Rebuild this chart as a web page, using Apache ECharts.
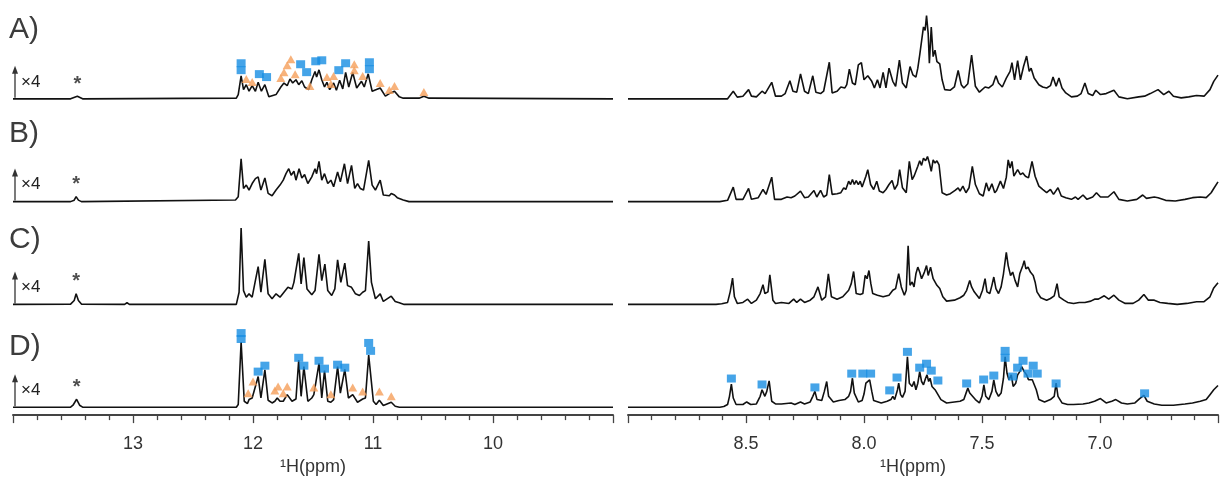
<!DOCTYPE html>
<html><head><meta charset="utf-8">
<script src="https://cdn.jsdelivr.net/npm/echarts@6/dist/echarts.min.js"></script>
<style>html,body{margin:0;padding:0;background:#fff}#c{width:1221px;height:481px}</style>
</head><body><div id="c"></div>
<script>
// ---------- DATA (ppm, intensity above each trace's own baseline) ----------
const panelLabels = ['A)', 'B)', 'C)', 'D)'];
const scaleLabel = '×4';
const axisTitle = '¹H(ppm)';
const leftTickLabels = ['13', '12', '11', '10'];
const rightTickLabels = ['8.5', '8.0', '7.5', '7.0'];

const specA_left = [[14.0,0],[13.52,0],[13.464,2.7],[13.42,0],
[12.139,0.7],[12.123,4.3],[12.099,23.3],[12.079,9.3],[12.056,14.3],[12.033,7.7],[12.007,13.3],[11.980,7.7],[11.957,16.7],[11.930,7.7],[11.901,14.3],[11.868,2],[11.808,4.3],[11.768,12],[11.742,16],[11.715,13.3],[11.692,20],[11.669,16],[11.642,19.3],[11.619,14.3],[11.593,18.3],[11.570,12],[11.536,9.3],[11.510,19.3],[11.483,27.7],[11.470,22],[11.450,29.3],[11.427,19.3],[11.404,12],[11.384,16.7],[11.361,9.3],[11.328,16],[11.305,8.7],[11.278,18.7],[11.252,10],[11.228,26.7],[11.202,12],[11.169,26.7],[11.136,11],[11.096,17.7],[11.073,12],[11.040,25.3],[11.007,7.7],[10.940,11],[10.897,2.7],[10.864,5.3],[10.848,4.3],[10.821,7.7],[10.781,2],[10.748,0.7],[10.616,0.7],[10.576,2.7],[10.533,0.7],[9.0,0]];

const specB_left = [[14.0,0],[13.52,0],[13.49,1.5],[13.474,5],[13.455,1.5],[13.43,0],
[12.146,1.7],[12.123,5],[12.099,43.3],[12.079,13.3],[12.056,16.7],[12.033,11.7],[12.007,18.3],[11.980,23.3],[11.957,25],[11.934,11.7],[11.901,24],[11.874,8.3],[11.841,6],[11.808,11.7],[11.775,16.7],[11.748,21.7],[11.725,28.3],[11.702,33.3],[11.682,26.7],[11.659,30.7],[11.642,21.7],[11.616,33.3],[11.593,24],[11.570,27.3],[11.543,18.3],[11.510,25],[11.483,33.3],[11.470,28.3],[11.450,40.7],[11.427,21.7],[11.404,28.3],[11.377,18.3],[11.351,21.7],[11.328,15],[11.295,30],[11.272,20],[11.238,38.3],[11.212,18.3],[11.179,36.7],[11.152,13.3],[11.129,18.3],[11.106,13.3],[11.079,11.7],[11.036,41.7],[11.007,16.7],[10.980,11.7],[10.940,21.7],[10.914,6.7],[10.864,6],[10.848,8.3],[10.821,6.7],[10.798,4],[10.748,1.7],[10.70,0],[9.0,0]];

const specC_left = [[14.0,0],[13.52,0.3],[13.49,4],[13.474,10.7],[13.455,4],[13.43,0.3],[13.07,0],[13.05,1.7],[13.03,0],
[12.139,0],[12.116,12.3],[12.099,77.3],[12.079,14],[12.056,7.3],[12.033,10.7],[12.007,7.3],[11.983,22.3],[11.957,38.3],[11.934,12.3],[11.901,45.7],[11.874,10.7],[11.841,5.7],[11.808,10.7],[11.775,7.3],[11.742,12.3],[11.709,17.3],[11.675,15.7],[11.659,22.3],[11.619,51.7],[11.599,20.7],[11.576,47.3],[11.550,15.7],[11.510,9.7],[11.483,14],[11.450,50.7],[11.427,24],[11.401,40.7],[11.377,14],[11.344,9],[11.318,15.7],[11.295,45],[11.268,22.3],[11.235,41.7],[11.212,19],[11.179,17.3],[11.146,10.7],[11.113,9],[11.086,12.3],[11.063,14],[11.036,64],[11.013,22.3],[10.980,5.7],[10.940,10.7],[10.914,3],[10.848,8.3],[10.815,3],[10.781,1.7],[10.74,0],[9.0,0]];

const specD_left = [[14.0,0],[13.52,0],[13.50,2],[13.47,8],[13.445,2],[13.42,0],
[12.139,0],[12.123,2.7],[12.099,66],[12.073,6],[12.046,3.7],[12.033,7.7],[12.007,9.3],[11.980,21],[11.957,31],[11.934,9.3],[11.901,37.7],[11.874,7],[11.841,4.3],[11.818,6],[11.798,9.3],[11.775,6],[11.748,6],[11.715,12.7],[11.675,6],[11.642,8.3],[11.619,47.7],[11.599,11],[11.576,41],[11.543,6],[11.510,9.3],[11.493,12.7],[11.477,11],[11.450,44.3],[11.427,9.3],[11.404,37],[11.377,6],[11.351,5],[11.328,7.7],[11.295,41],[11.272,14.3],[11.235,38.3],[11.205,9.3],[11.169,12.7],[11.129,5],[11.086,8.3],[11.063,9.3],[11.036,52.7],[10.997,6],[10.974,2.7],[10.947,7],[10.914,1.7],[10.848,5],[10.815,1],[10.78,0],[9.0,0]];

const specA_right = [[9.0,0],[8.578,0],[8.554,7.7],[8.537,1.7],[8.513,2.7],[8.489,9.3],[8.477,2.7],[8.456,2],[8.432,7.7],[8.419,5.3],[8.391,16.7],[8.375,2.7],[8.350,2.7],[8.334,5.3],[8.314,18.3],[8.301,7.7],[8.285,6.7],[8.269,25.3],[8.252,7.7],[8.236,5.3],[8.217,23.3],[8.204,6.7],[8.184,5.3],[8.171,7.7],[8.147,37],[8.135,6],[8.114,7.7],[8.098,12],[8.081,11],[8.073,14.3],[8.062,30],[8.049,16],[8.037,14.3],[8.024,34.3],[8.016,32.7],[8.011,36.7],[8.000,19.3],[7.984,23.3],[7.967,17.7],[7.956,11],[7.943,19.3],[7.932,11],[7.919,26.7],[7.907,11],[7.894,31],[7.878,17.7],[7.866,12.7],[7.850,39.3],[7.837,16],[7.821,11],[7.805,32.7],[7.793,24.3],[7.780,22],[7.772,31],[7.764,44.3],[7.756,44.3],[7.748,72.7],[7.741,69.3],[7.735,84.3],[7.728,66],[7.723,36],[7.715,72.7],[7.707,42.7],[7.699,49.3],[7.691,37.7],[7.679,35.3],[7.669,19.3],[7.658,9.3],[7.634,8.7],[7.617,12],[7.601,28.7],[7.588,14.3],[7.577,11],[7.560,15.3],[7.544,44.3],[7.528,12.7],[7.511,6.7],[7.487,12],[7.471,11],[7.454,14.3],[7.441,23.3],[7.430,16],[7.414,12],[7.397,21],[7.381,27.7],[7.373,36.7],[7.362,19.3],[7.349,38.7],[7.337,19.3],[7.324,32.7],[7.311,43.3],[7.300,27.7],[7.292,31],[7.279,21],[7.259,14.3],[7.243,12],[7.226,11],[7.210,13.3],[7.199,22],[7.186,12.7],[7.174,21],[7.161,11],[7.145,6],[7.121,2],[7.096,2.7],[7.080,5.3],[7.064,16],[7.050,5.3],[7.031,3.3],[7.018,8.7],[6.998,4.3],[6.974,5.3],[6.941,8.7],[6.920,2],[6.884,0],[6.836,2],[6.811,2.7],[6.787,5.3],[6.754,9.3],[6.730,4.3],[6.708,7.7],[6.689,2.7],[6.656,1],[6.624,2],[6.591,3.3],[6.559,2.7],[6.534,9.3],[6.518,17.7],[6.5,24]];

const specB_right = [[9.0,0],[8.611,0],[8.578,1.3],[8.554,14.7],[8.542,2.3],[8.513,2.3],[8.489,13.3],[8.477,2.3],[8.448,4],[8.428,12.3],[8.415,7.3],[8.391,24.7],[8.379,2.3],[8.350,2.3],[8.326,4.7],[8.309,4],[8.293,5.7],[8.269,10.7],[8.252,4],[8.236,4.7],[8.212,11.3],[8.200,4.7],[8.184,11.3],[8.171,4.7],[8.158,6.7],[8.147,27.3],[8.135,7.3],[8.114,8],[8.098,9],[8.086,14],[8.077,12.3],[8.065,20.7],[8.057,17.3],[8.049,22.3],[8.041,17.3],[8.033,21.3],[8.024,17.3],[8.016,20.7],[8.008,14.7],[7.992,25.7],[7.984,32.3],[7.972,17.3],[7.959,12.3],[7.946,20.7],[7.935,10.7],[7.919,9],[7.907,12.3],[7.894,17.3],[7.881,21.3],[7.870,12.3],[7.858,17.3],[7.849,32.3],[7.837,14],[7.821,9],[7.808,40.7],[7.796,22.3],[7.788,25.7],[7.780,24],[7.772,35.7],[7.764,41.3],[7.756,36.7],[7.748,44],[7.739,41.3],[7.731,45.7],[7.723,39],[7.715,30.7],[7.707,42.3],[7.699,39],[7.691,41.3],[7.682,37.3],[7.669,9],[7.650,6.7],[7.634,8],[7.614,11.3],[7.601,14],[7.593,10.7],[7.581,15.7],[7.568,9],[7.555,14],[7.541,35.7],[7.528,17.3],[7.511,8],[7.495,5.7],[7.482,19],[7.471,10.7],[7.458,18],[7.446,9],[7.438,11.3],[7.422,20.7],[7.409,13.3],[7.397,24.7],[7.389,42.3],[7.381,34],[7.373,40.7],[7.365,25.7],[7.357,29],[7.349,32.3],[7.337,27.3],[7.327,29],[7.316,25.7],[7.303,24],[7.288,40.7],[7.275,25.7],[7.259,15.7],[7.243,12.3],[7.226,9],[7.210,12.3],[7.197,7.3],[7.178,14],[7.164,5.7],[7.145,4],[7.121,2.3],[7.104,4.7],[7.093,2.3],[7.072,6.7],[7.055,2.3],[7.031,4.7],[7.015,9],[6.998,4.7],[6.966,4.7],[6.941,10],[6.920,2.3],[6.884,0.7],[6.844,2.3],[6.819,6.7],[6.803,3.3],[6.770,4.7],[6.754,4],[6.722,1.3],[6.681,0.7],[6.640,2.3],[6.608,4],[6.575,4.7],[6.550,4],[6.529,9],[6.518,13.3],[6.5,20]];

const specC_right = [[9.0,0],[8.627,0],[8.603,0.7],[8.578,2],[8.567,12.7],[8.557,26.7],[8.549,7.7],[8.537,1],[8.513,2],[8.493,5.3],[8.477,1],[8.456,4.3],[8.440,11],[8.428,20],[8.420,11],[8.407,12.7],[8.399,30],[8.386,4.3],[8.375,1],[8.350,2],[8.318,1],[8.298,5.3],[8.285,2],[8.269,5.3],[8.252,2],[8.228,4.3],[8.212,7.7],[8.195,17.7],[8.179,4.3],[8.163,7.7],[8.151,31],[8.138,7.7],[8.114,5.3],[8.090,7.7],[8.065,14.3],[8.054,21],[8.044,33.3],[8.033,11],[8.016,10],[8.005,11],[7.995,29.3],[7.987,26],[7.979,34.3],[7.971,21],[7.963,11],[7.943,9.3],[7.919,7.7],[7.894,9.3],[7.878,14.3],[7.866,16],[7.853,31],[7.842,17.7],[7.829,9.3],[7.821,14.3],[7.813,59.3],[7.805,19.3],[7.796,22.7],[7.788,17.7],[7.780,31],[7.772,37.7],[7.764,32.7],[7.756,26],[7.744,32.7],[7.735,39.3],[7.728,29.3],[7.718,37.7],[7.707,26],[7.691,19.3],[7.679,16],[7.666,7.7],[7.650,3.3],[7.617,4.3],[7.593,6.7],[7.577,9.3],[7.565,14.3],[7.552,24.3],[7.544,17.7],[7.533,12.7],[7.511,6],[7.498,14.3],[7.487,26],[7.479,12.7],[7.467,11],[7.458,19.3],[7.450,27.7],[7.441,16],[7.430,11],[7.419,17.7],[7.409,31],[7.397,52.7],[7.389,39.3],[7.379,29.3],[7.370,32.7],[7.360,24.3],[7.349,17.7],[7.340,31],[7.327,39.3],[7.321,44.3],[7.314,36],[7.305,37.7],[7.295,32.7],[7.283,29.3],[7.275,22.7],[7.267,12.7],[7.251,6.7],[7.226,4.3],[7.210,6],[7.194,8.7],[7.182,21],[7.173,7.7],[7.153,4.3],[7.137,2],[7.112,1],[7.088,2],[7.064,2],[7.039,3.3],[7.023,5.3],[7.007,5.3],[6.982,8.7],[6.963,5.3],[6.941,9.3],[6.920,4.3],[6.893,1],[6.860,1],[6.836,4.3],[6.814,10],[6.795,4.3],[6.770,4.3],[6.746,2],[6.713,1],[6.673,0],[6.632,1],[6.591,2.7],[6.559,2.7],[6.534,7.7],[6.518,16.7],[6.5,22]];

const specD_right = [[9.0,0],[8.611,0],[8.594,0.7],[8.578,2.7],[8.570,11],[8.562,23.3],[8.554,9.3],[8.542,2.7],[8.513,2.7],[8.497,5.3],[8.480,2.7],[8.456,3.3],[8.440,11],[8.432,17.7],[8.420,11],[8.412,16],[8.402,26.7],[8.391,6],[8.375,3.3],[8.350,3.3],[8.309,4.3],[8.293,2.7],[8.269,5.3],[8.252,3.3],[8.228,5.3],[8.217,11],[8.208,16],[8.199,7.7],[8.179,6.7],[8.168,16],[8.158,26],[8.150,11],[8.130,5.3],[8.106,6.7],[8.081,7.7],[8.065,11],[8.057,16],[8.049,29.3],[8.041,14.3],[8.024,5.3],[8.008,6.7],[8.000,13.3],[7.992,24.3],[7.984,23.3],[7.976,27.7],[7.967,16],[7.959,6.7],[7.927,4.3],[7.902,6],[7.886,7.7],[7.878,11],[7.870,7.7],[7.858,17.7],[7.853,24.3],[7.845,12.7],[7.837,10],[7.826,16],[7.816,51],[7.808,24.3],[7.796,21],[7.788,26],[7.780,17.7],[7.772,24.3],[7.764,36],[7.756,26],[7.748,22.7],[7.739,29.3],[7.733,32.7],[7.726,26],[7.720,29.3],[7.712,21],[7.699,17.7],[7.691,19.3],[7.674,7.7],[7.650,4.3],[7.617,5.3],[7.593,6],[7.577,7.7],[7.565,16],[7.560,19.3],[7.552,14.3],[7.544,12.7],[7.528,7.7],[7.511,4.3],[7.500,11],[7.492,22.7],[7.484,11],[7.471,7.7],[7.458,16],[7.450,27.7],[7.441,16],[7.430,11],[7.419,14.3],[7.409,29.3],[7.402,51],[7.394,34.3],[7.386,27.7],[7.376,32.7],[7.368,21],[7.357,24.3],[7.349,32.7],[7.340,36],[7.332,41],[7.327,40],[7.321,36],[7.311,32.7],[7.303,27.7],[7.295,26],[7.287,27.7],[7.280,26],[7.270,17.7],[7.259,7.7],[7.235,5.3],[7.210,7.7],[7.194,11],[7.186,24.3],[7.178,11],[7.161,4.3],[7.137,2.7],[7.112,2.7],[7.072,3.3],[7.047,4.3],[7.023,6],[6.998,8.7],[6.974,4.3],[6.950,6],[6.933,7.7],[6.909,4.3],[6.884,3.3],[6.852,4.3],[6.832,8.7],[6.814,12],[6.800,6],[6.770,3.3],[6.738,2],[6.689,2],[6.640,3.3],[6.608,4.3],[6.575,6],[6.550,7.7],[6.534,12.7],[6.518,17.7],[6.5,22]];

// assignment markers (ppm, height above trace baseline)
const squaresA_left = [[12.099,36],[12.099,29],[11.947,25],[11.887,22],[11.603,35],[11.553,27],[11.477,38],[11.427,39],[11.285,29],[11.228,36],[11.030,37],[11.030,30]];
const trianglesA_left = [[12.056,20],[12.007,17],[11.768,21],[11.742,27],[11.715,34],[11.685,40],[11.649,25],[11.526,13],[11.384,22],[11.351,15],[11.328,23],[11.156,35],[11.156,29],[11.086,23],[10.940,16],[10.864,9],[10.821,13],[10.576,7]];
const squaresD_left = [[12.099,75],[12.099,69],[11.957,36],[11.901,42],[11.619,50],[11.576,42],[11.450,47],[11.404,39],[11.295,43],[11.235,40],[11.036,65],[11.020,57]];
const trianglesD_left = [[12.040,14],[12.000,26],[11.818,17],[11.791,21],[11.748,14],[11.715,21],[11.493,20],[11.351,13],[11.169,20],[11.086,16],[10.947,16],[10.848,11]];
const squaresD_right = [[8.562,29],[8.432,23],[8.208,20],[8.052,34],[8.005,34],[7.972,34],[7.891,17],[7.860,30],[7.816,56],[7.764,40],[7.735,44],[7.715,37],[7.687,27],[7.565,24],[7.493,28],[7.450,32],[7.402,57],[7.402,50],[7.370,31],[7.349,40],[7.326,47],[7.305,34],[7.283,42],[7.266,34],[7.186,24],[6.811,14]];
// reference peak marked with an asterisk (ppm, peak height) for A..D
const starPeaks = [[13.464,2.7],[13.474,5],[13.474,10.7],[13.47,8]];

// ---------- LAYOUT ----------
const traceOffsets = [320, 216, 112, 8];
const BLUE = '#178de2', ORANGE = '#f59f5a', INK = '#111';
const FONT = 'Liberation Sans, Arial, sans-serif';

const chart = echarts.init(document.getElementById('c'), null, {renderer: 'canvas'});
const shift = (arr, off) => arr.map(p => [p[0], p[1] + off]);

const leftSpecs = [specA_left, specB_left, specC_left, specD_left];
const rightSpecs = [specA_right, specB_right, specC_right, specD_right];

const series = [];
leftSpecs.forEach((s, i) => series.push({
  type: 'line', xAxisIndex: 0, yAxisIndex: 0, data: shift(s, traceOffsets[i]),
  showSymbol: false, symbol: 'none', lineStyle: {color: INK, width: 1.6}, z: 2, animation: false
}));
rightSpecs.forEach((s, i) => series.push({
  type: 'line', xAxisIndex: 1, yAxisIndex: 1, data: shift(s, traceOffsets[i]),
  showSymbol: false, symbol: 'none', lineStyle: {color: INK, width: 1.6}, z: 2, animation: false
}));
function markers(data, off, ax, sym) {
  const isSq = sym === 'rect';
  return {
    type: 'scatter', xAxisIndex: ax, yAxisIndex: ax, data: shift(data, off),
    symbol: sym, symbolSize: isSq ? [9, 8] : [9, 8],
    itemStyle: {color: isSq ? BLUE : ORANGE}, z: 5, animation: false, silent: true
  };
}
series.push(markers(squaresA_left, traceOffsets[0], 0, 'rect'));
series.push(markers(trianglesA_left, traceOffsets[0], 0, 'triangle'));
series.push(markers(squaresD_left, traceOffsets[3], 0, 'rect'));
series.push(markers(trianglesD_left, traceOffsets[3], 0, 'triangle'));
series.push(markers(squaresD_right, traceOffsets[3], 1, 'rect'));
series.push({
  type: 'scatter', xAxisIndex: 0, yAxisIndex: 0,
  data: starPeaks.map((p, i) => [p[0], p[1] + traceOffsets[i]]),
  symbol: 'circle', symbolSize: 2, itemStyle: {color: 'rgba(0,0,0,0)'},
  z: 6, animation: false, silent: true,
  label: {show: true, position: 'top', distance: 1, formatter: '*', fontSize: 20, fontWeight: 'bold', color: '#222', fontFamily: FONT}
});

function xAxis(grid, min, max, interval, labels, pad) {
  return {
    type: 'value', gridIndex: grid, min: min, max: max, interval: interval, inverse: true,
    axisLine: {show: true, lineStyle: {color: '#444', width: 2}},
    axisTick: {show: true, inside: false, length: 8, lineStyle: {color: '#444', width: 1.3}},
    minorTick: {show: true, splitNumber: 5, length: 5, lineStyle: {color: '#444', width: 1.3}},
    splitLine: {show: false}, minorSplitLine: {show: false},
    axisLabel: {
      fontSize: 18, color: '#333', margin: 20, fontFamily: FONT,
      formatter: v => { const s = interval < 1 ? v.toFixed(1) : String(Math.round(v)); return labels.includes(s) ? s : ''; }
    },
    name: axisTitle, nameLocation: 'middle', nameGap: 40,
    nameTextStyle: {fontSize: 18, color: '#333', fontFamily: FONT, padding: pad}
  };
}
function yAxis(grid) {
  return {type: 'value', gridIndex: grid, min: 0, max: 420, show: false};
}

chart.setOption({
  backgroundColor: '#fff',
  animation: false,
  grid: [
    {left: 13, top: 0, width: 600, height: 420},
    {left: 628, top: 0, width: 599, height: 420}
  ],
  xAxis: [xAxis(0, 9, 14, 1, leftTickLabels, [0, 0, 0, 0]), xAxis(1, 6.5, 9.0, 0.5, rightTickLabels, [0, 20, 0, 0])],
  yAxis: [yAxis(0), yAxis(1)],
  series: series
});

// panel letters and "×4" arrows, anchored to each trace baseline
const graphics = [];
const letterY = [30, 134, 240, 347];
panelLabels.forEach((t, i) => {
  graphics.push({type: 'text', x: 9, y: letterY[i], style: {text: t, fontSize: 30, fill: '#3c3c3c', fontFamily: FONT, verticalAlign: 'middle', align: 'left'}});
  const base = chart.convertToPixel({xAxisIndex: 0, yAxisIndex: 0}, [14, traceOffsets[i]])[1];
  graphics.push({type: 'line', shape: {x1: 15, y1: base - 1, x2: 15, y2: base - 27}, style: {stroke: '#333', lineWidth: 1.3}});
  graphics.push({type: 'polygon', shape: {points: [[12, base - 25], [15, base - 33], [18, base - 25]]}, style: {fill: '#333'}});
  graphics.push({type: 'text', x: 21, y: base - 17, style: {text: scaleLabel, fontSize: 17, fill: '#222', fontFamily: FONT, verticalAlign: 'middle', align: 'left'}});
});
chart.setOption({graphic: graphics});
</script></body></html>
